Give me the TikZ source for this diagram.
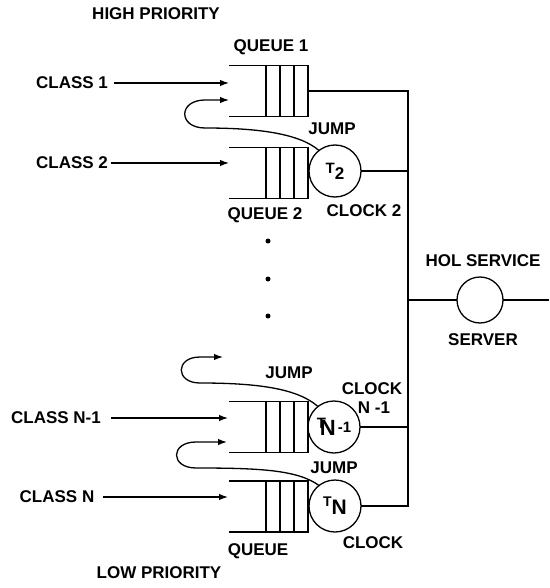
\documentclass[tikz,border=0pt]{standalone}
\usepackage{fontspec}
\setmainfont{Liberation Sans}
\usetikzlibrary{arrows.meta,calc}
\tikzset{
  lbl/.style={inner sep=0pt, font=\fontsize{17}{19}\selectfont\bfseries},
  queuebox/.style={minimum width=79pt, minimum height=51pt, inner sep=0pt, outer sep=0pt},
  clock/.style={circle, draw, minimum size=52pt, inner sep=0pt, outer sep=0pt, font=\bfseries},
  server/.style={circle, draw, minimum size=46pt, inner sep=0pt, outer sep=0pt},
  dot/.style={circle, fill, minimum size=5pt, inner sep=0pt},
  arr/.style={-{Latex[length=9pt,width=6.5pt]}},
}
\newcommand\qlines[1]{%
  \draw (#1.north west) -- (#1.north east) -- (#1.south east) -- (#1.south west);
  \foreach \f in {0.468,0.646,0.823}{
    \draw ($(#1.north west)!\f!(#1.north east)$) -- ($(#1.south west)!\f!(#1.south east)$);}
}
\begin{document}
\begin{tikzpicture}[x=1pt,y=-1pt,line width=1.3pt]
\useasboundingbox (0,0) rectangle (549,588);
% queues
\node[queuebox] (q1) at (268.5,91) {};
\node[queuebox] (q2) at (268.5,173) {};
\node[queuebox] (qn1) at (268.5,427) {};
\node[queuebox] (qn) at (268.5,506.5) {};
\qlines{q1}\qlines{q2}\qlines{qn1}\qlines{qn}
% clocks
\node[clock] (T2) at (335,171) {\fontsize{15}{15}\selectfont T\raisebox{-6pt}{\fontsize{17}{17}\selectfont 2}};
\node[clock] (TN1) at (334,427) {\fontsize{15}{15}\selectfont\raisebox{5pt}{T}\kern-6pt\raisebox{-2pt}{\fontsize{22}{22}\selectfont N}\kern2pt\raisebox{1pt}{-1}};
\node[clock] (TN) at (335,506) {\fontsize{14}{14}\selectfont\raisebox{6pt}{T}\raisebox{-2pt}{\fontsize{21}{21}\selectfont N}};
% server
\node[server] (srv) at (480,300) {};
\coordinate (bus) at (408,0);
\coordinate (out) at (549,300);
% bus and connections
\draw (q1.east) -- (q1.east -| bus) -- (TN.east -| bus) -- (TN.east);
\draw (T2.east) -- (T2.east -| bus);
\draw (TN1.east) -- (TN1.east -| bus);
\draw (srv.west -| bus) -- (srv.west);
\draw (srv.east) -- (out);
% class labels and arrows
\node[lbl] (c1) at (72,83) {CLASS 1};
\node[lbl] (c2) at (72,163) {CLASS 2};
\node[lbl] (cn1) at (56,418) {CLASS N-1};
\node[lbl] (cn) at (57,497) {CLASS N};
\coordinate (e1) at (229,83);
\coordinate (e2) at (229,163);
\coordinate (en1) at (228,418);
\coordinate (en) at (228,497);
\draw[arr] ([xshift=5pt]c1.east) -- (e1);
\draw[arr] ([xshift=2pt]c2.east) -- (e2);
\draw[arr] ([xshift=9pt]cn1.east) -- (en1);
\draw[arr] ([xshift=8pt]cn.east) -- (en);
% jumps
\coordinate (j1) at (229,100);
\coordinate (jtop) at (223,357);
\coordinate (j3) at (227,442);
\draw[arr] (T2.128) .. controls (300,134) and (260,128) .. (205,128)
  .. controls (178,128) and (178,100) .. (205,100) -- (j1);
\draw[arr] (TN1.128) .. controls (298,389) and (260,383) .. (200,383)
  .. controls (175,383) and (175,357) .. (200,357) -- (jtop);
\draw[arr] (TN.128) .. controls (298,470) and (260,468) .. (196,468)
  .. controls (170,468) and (170,442) .. (196,442) -- (j3);
% dots
\node[dot] (d1) at (268,241) {};
\node[dot] (d2) at (268,279) {};
\node[dot] (d3) at (268,316) {};
% labels
\node[lbl] (hp) at (156,14) {HIGH PRIORITY};
\node[lbl] (lq1) at (271,47) {QUEUE 1};
\node[lbl] (lj1) at (332,129) {JUMP};
\node[lbl] (lq2) at (265,215) {QUEUE 2};
\node[lbl] (lc2) at (364,211) {CLOCK 2};
\node[lbl] (hol) at (483,261) {HOL SERVICE};
\node[lbl] (srvl) at (483,340) {SERVER};
\node[lbl] (lj2) at (289,373) {JUMP};
\node[lbl] (lcn1) at (372,389) {CLOCK};
\node[lbl] (lcn1b) at (374,408) {N -1};
\node[lbl] (lj3) at (334,468) {JUMP};
\node[lbl] (lcn) at (373,543) {CLOCK};
\node[lbl] (lqn) at (258,551) {QUEUE};
\node[lbl] (lp) at (159,573) {LOW PRIORITY};
\end{tikzpicture}
\end{document}
